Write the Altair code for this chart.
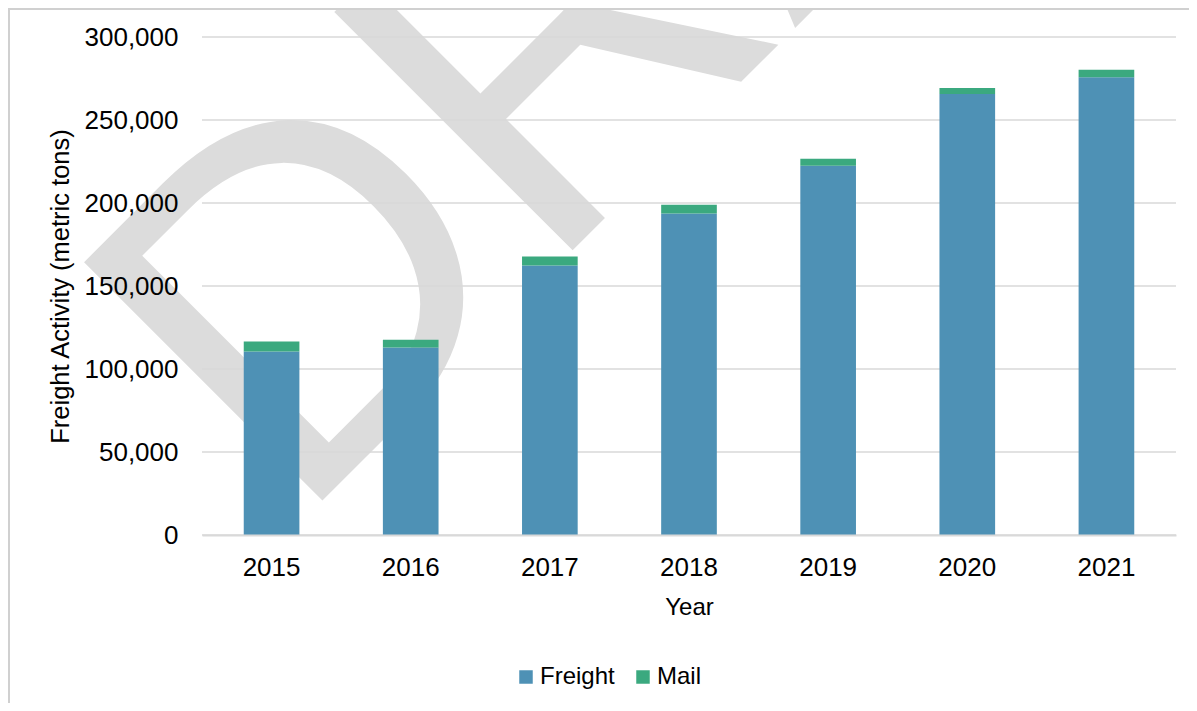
import altair as alt
import pandas as pd

years = ["2015", "2016", "2017", "2018", "2019", "2020", "2021"]
freight = [110500, 113000, 162400, 193700, 222500, 265600, 275700]
mail = [6100, 4600, 5300, 5300, 4200, 3700, 4500]
series = ["Freight", "Mail"]
colors = ["#4E91B5", "#3BA97F"]
y_ticks = [0, 50000, 100000, 150000, 200000, 250000, 300000]
watermark = ["DRAFT"]

rows = []
for i, yr in enumerate(years):
    rows.append({"Year": yr, "Type": "Freight", "Value": freight[i], "ord": 0})
    rows.append({"Year": yr, "Type": "Mail", "Value": mail[i], "ord": 1})
df = pd.DataFrame(rows)

FONT = "Liberation Sans"
W, H = 974, 498
YTITLE = "Freight Activity (metric tons)"

yscale = alt.Scale(domain=[0, 300000], nice=False)
yaxis = alt.Axis(values=y_ticks, format=",d", ticks=False, domain=False,
                 grid=False, labelFontSize=26, labelPadding=24,
                 titleFontSize=25.5, titlePadding=11, zindex=1)

wm = alt.Chart(pd.DataFrame({"t": watermark})).mark_text(
    angle=315, align="left", baseline="alphabetic", fontSize=490,
    font=FONT, color="#dcdcdc"
).encode(text="t:N", x=alt.value(92), y=alt.value(492))

grid = alt.Chart(pd.DataFrame({"v": y_ticks})).mark_rule(
    color="#d9d9d9", strokeWidth=1.5
).encode(y=alt.Y("v:Q", title=YTITLE, axis=yaxis, scale=yscale))

bars = alt.Chart(df).mark_bar().encode(
    x=alt.X("Year:N", title="Year", sort=years,
            scale=alt.Scale(paddingInner=0.6, paddingOuter=0.3),
            axis=alt.Axis(labelAngle=0, ticks=False, domain=True, domainColor="#d9d9d9",
                          domainWidth=2, labelFontSize=26, labelPadding=19,
                          titleFontSize=24, titlePadding=15, grid=False, zindex=1)),
    y=alt.Y("Value:Q", title=YTITLE, scale=yscale, stack="zero", axis=yaxis),
    color=alt.Color("Type:N", sort=series,
                    scale=alt.Scale(domain=series, range=colors),
                    legend=alt.Legend(title=None, orient="none", direction="horizontal",
                                      legendX=312, legendY=628, symbolType="square",
                                      symbolSize=182, symbolStrokeWidth=0,
                                      labelFontSize=24, columnPadding=16,
                                      labelOffset=2)),
    order=alt.Order("ord:Q", sort="ascending"),
)

border_left = alt.Chart(pd.DataFrame({"a": [0]})).mark_rule(
    color="#d0d0d0", strokeWidth=2
).encode(x=alt.value(-193), y=alt.value(-29), y2=alt.value(H + 170))

border_top = alt.Chart(pd.DataFrame({"a": [0]})).mark_rule(
    color="#d0d0d0", strokeWidth=2
).encode(x=alt.value(-194), x2=alt.value(W + 20), y=alt.value(-28))

chart = alt.layer(wm, grid, bars, border_left, border_top).properties(
    width=W, height=H,
    padding={"left": 194, "top": 29, "right": 13, "bottom": 168},
    autosize=alt.AutoSizeParams(type="none"),
).configure(font=FONT).configure_axis(
    labelFont=FONT, titleFont=FONT, labelColor="#000000", titleColor="#000000",
    titleFontWeight="normal"
).configure_legend(labelFont=FONT, labelColor="#000000").configure_view(stroke=None)

chart.save("out.html", embed_options={"renderer": "svg", "actions": False})
